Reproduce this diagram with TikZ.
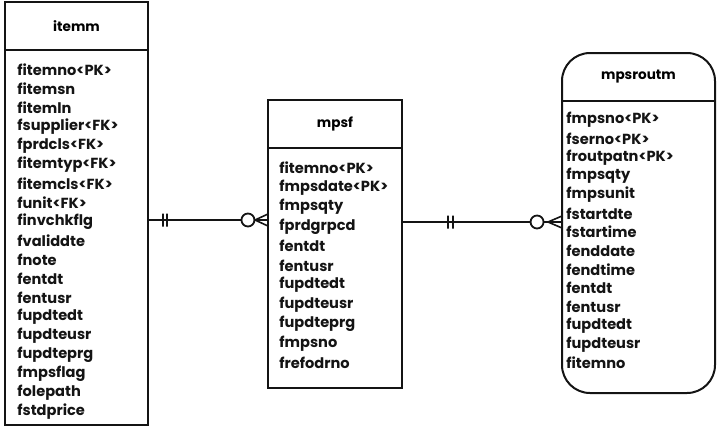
\documentclass[tikz,border=0pt]{standalone}
\usepackage{fontspec}
\setmainfont{Poppins}
\usetikzlibrary{positioning, arrows.meta}
\definecolor{cLine}{HTML}{141414}

\tikzset{
  tblhead/.style={draw=cLine, line width=1pt, inner sep=0pt, outer sep=0pt,
    font=\fontsize{6.8}{8}\selectfont\bfseries},
  tblbody/.style={draw=cLine, line width=1pt, inner sep=0pt, outer sep=0pt},
  field/.style={anchor=west, inner sep=0pt, text=cLine,
    font=\fontsize{7.3}{8}\selectfont\bfseries},
  erline/.style={line width=0.8pt, draw=cLine},
  erbar/.style={draw=cLine, line width=0.9pt, inner sep=0pt,
    minimum width=0pt, minimum height=6.5pt},
  erring/.style={circle, draw=cLine, line width=0.9pt, fill=white,
    inner sep=0pt, minimum size=6.5pt},
}

\begin{document}
\begin{tikzpicture}[x=0.5pt, y=-0.5pt]
  \useasboundingbox (0,0) rectangle (719,441);

  % itemm
  \node[tblhead, minimum width=71.5pt, minimum height=24pt, anchor=north]
    (itemm) at (76.5,2) {itemm};
  \node[tblbody, minimum width=71.5pt, minimum height=187.5pt, below=0pt of itemm]
    (itemm-b) {};
  \foreach \f [count=\i] in {fitemno<PK>, fitemsn, fitemln, fsupplier<FK>,
      fprdcls<FK>, fitemtyp<FK>, fitemcls<FK>, funit<FK>, finvchkflg,
      fvaliddte, fnote, fentdt, fentusr, fupdtedt, fupdteusr, fupdteprg,
      fmpsflag, folepath, fstdprice}{
    \node[field] (itemm-\i) at (17, 51+\i*19) {\f};
  }

  % mpsf
  \node[tblhead, minimum width=67pt, minimum height=24pt, anchor=north]
    (mpsf) at (335,100) {mpsf};
  \node[tblbody, minimum width=67pt, minimum height=120pt, below=0pt of mpsf]
    (mpsf-b) {};
  \foreach \f [count=\i] in {fitemno<PK>, fmpsdate<PK>, fmpsqty, fprdgrpcd,
      fentdt, fentusr, fupdtedt, fupdteusr, fupdteprg, fmpsno, frefodrno}{
    \node[field] (mpsf-\i) at (279, 148.5+\i*19.5) {\f};
  }

  % mpsroutm
  \node[tblhead, draw=none, minimum width=76.5pt, minimum height=24pt, anchor=north]
    (mpsroutm) at (638.5,53) {mpsroutm};
  \node[tblbody, draw=none, minimum width=76.5pt, minimum height=146pt,
    below=0pt of mpsroutm] (mpsroutm-b) {};
  \draw[cLine, line width=1pt, rounded corners=14pt]
    (mpsroutm.north west) rectangle (mpsroutm-b.south east);
  \draw[cLine, line width=1pt] (mpsroutm.south west) -- (mpsroutm.south east);
  \foreach \f [count=\i] in {fmpsno<PK>, fserno<PK>, froutpatn<PK>, fmpsqty,
      fmpsunit, fstartdte, fstartime, fenddate, fendtime, fentdt, fentusr,
      fupdtedt, fupdteusr, fitemno}{
    \node[field] (mpsroutm-\i) at (566, 101.3+\i*18.7) {\f};
  }

  % relations
  \coordinate (r1) at (0,220);
  \coordinate (r2) at (0,222);
  \coordinate (e1) at (mpsf-b.west |- r1);
  \coordinate (e2) at (mpsroutm-b.west |- r2);

  \draw[erline] (itemm-b.east |- r1) -- node[pos=.125, erbar]{}
    node[pos=.158, erbar]{} node[pos=.833, erring]{} (e1);
  \draw[erline] ([xshift=-6.5pt]e1) -- ([yshift=3pt]e1)
    ([xshift=-6.5pt]e1) -- ([yshift=-3pt]e1);

  \draw[erline] (mpsf-b.east |- r2) -- node[pos=.2875, erbar]{}
    node[pos=.319, erbar]{} node[pos=.844, erring]{} (e2);
  \draw[erline] ([xshift=-7pt]e2) -- ([yshift=3pt]e2)
    ([xshift=-7pt]e2) -- ([yshift=-3pt]e2);
\end{tikzpicture}
\end{document}
